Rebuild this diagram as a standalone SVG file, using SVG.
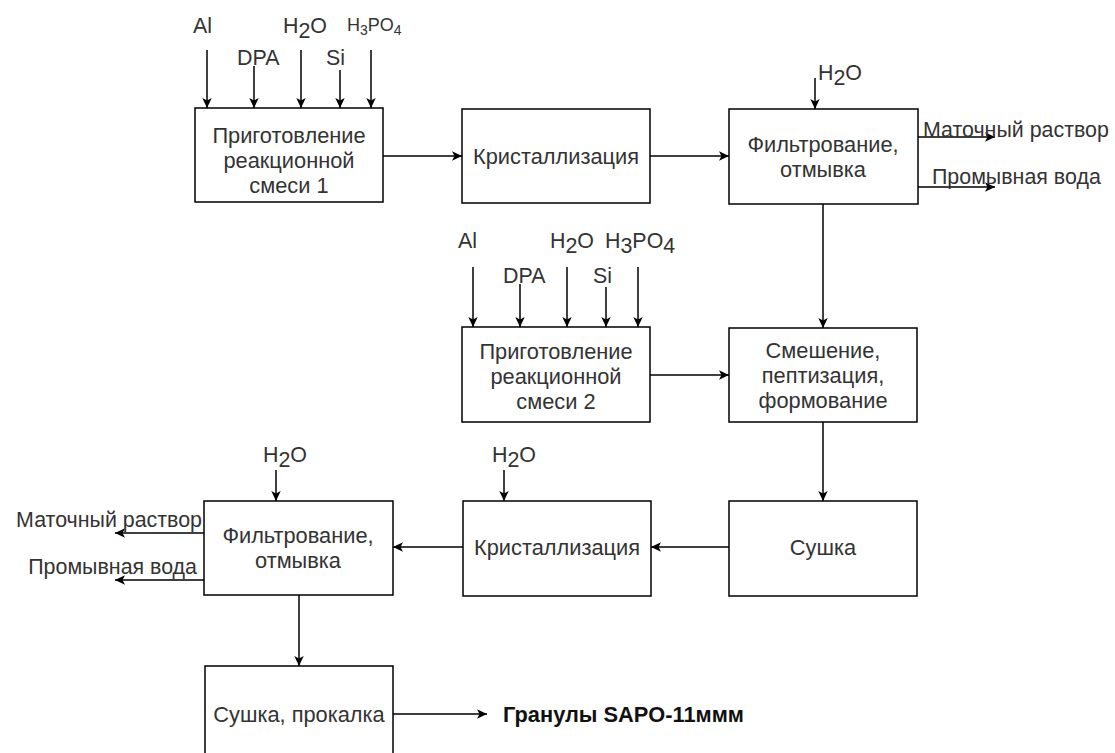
<svg xmlns="http://www.w3.org/2000/svg" width="1115" height="753" viewBox="0 0 1115 753">
<defs>
<marker id="arr" viewBox="0 0 10 10" refX="10" refY="5" markerWidth="10" markerHeight="10" markerUnits="userSpaceOnUse" orient="auto">
<path d="M0,0.3 L10,5 L0,9.7 L2.5,5 Z" fill="#000"/>
</marker>
<style>
.box{fill:#fff;stroke:#000;stroke-width:1.5}
.t{font-family:"Liberation Sans",Arial,sans-serif;font-size:21.8px;fill:#333}
.l{font-size:21.4px}
.c{text-anchor:middle}
.e{text-anchor:end}
.b{font-weight:bold;fill:#111}
.sm{font-size:18px}
.conn line{stroke:#000;stroke-width:1.5;marker-end:url(#arr)}
</style>
</defs>
<rect width="1115" height="753" fill="#fff"/>

<g id="connectors" class="conn">
<line x1="207" y1="50" x2="207" y2="108"/>
<line x1="254" y1="66" x2="254" y2="108"/>
<line x1="301" y1="50" x2="301" y2="108"/>
<line x1="340" y1="70" x2="340" y2="108"/>
<line x1="371" y1="50" x2="371" y2="108"/>
<line x1="383" y1="156" x2="462" y2="156"/>
<line x1="650" y1="156" x2="729" y2="156"/>
<line x1="815" y1="78" x2="815" y2="109"/>
<line x1="918" y1="137" x2="995" y2="137"/>
<line x1="918" y1="187" x2="995" y2="187"/>
<line x1="823" y1="204" x2="823" y2="328"/>
<line x1="473" y1="267" x2="473" y2="327"/>
<line x1="520" y1="284" x2="520" y2="327"/>
<line x1="567" y1="267" x2="567" y2="327"/>
<line x1="606" y1="287" x2="606" y2="327"/>
<line x1="638" y1="267" x2="638" y2="327"/>
<line x1="650" y1="375" x2="729" y2="375"/>
<line x1="823" y1="422" x2="823" y2="501"/>
<line x1="729" y1="547" x2="651" y2="547"/>
<line x1="504" y1="470" x2="504" y2="501"/>
<line x1="463" y1="547" x2="393" y2="547"/>
<line x1="276" y1="470" x2="276" y2="501"/>
<line x1="204" y1="533" x2="115" y2="533"/>
<line x1="204" y1="580" x2="115" y2="580"/>
<line x1="299" y1="595" x2="299" y2="666"/>
<line x1="393" y1="714" x2="487" y2="714"/>
</g>

<g id="labels">
<text class="t l" x="193" y="33">Al</text>
<text class="t l" x="237" y="65">DPA</text>
<text class="t l" x="283" y="33">H<tspan dy="5">2</tspan><tspan dy="-5">O</tspan></text>
<text class="t l" x="326" y="65">Si</text>
<text class="t sm" x="347" y="31">H<tspan dy="4" font-size="14">3</tspan><tspan dy="-4">PO</tspan><tspan dy="4" font-size="14">4</tspan></text>
<text class="t l" x="818" y="80">H<tspan dy="5">2</tspan><tspan dy="-5">O</tspan></text>
<text class="t l" x="923" y="137">Маточный раствор</text>
<text class="t l" x="932" y="184">Промывная вода</text>
<text class="t l" x="458" y="248">Al</text>
<text class="t l" x="503" y="283">DPA</text>
<text class="t l" x="550" y="248">H<tspan dy="5">2</tspan><tspan dy="-5">O</tspan></text>
<text class="t l" x="593" y="283">Si</text>
<text class="t l" x="605" y="248">H<tspan dy="5">3</tspan><tspan dy="-5">PO</tspan><tspan dy="5">4</tspan></text>
<text class="t l" x="492" y="462">H<tspan dy="5">2</tspan><tspan dy="-5">O</tspan></text>
<text class="t l" x="263" y="462">H<tspan dy="5">2</tspan><tspan dy="-5">O</tspan></text>
<text class="t l e" x="202" y="527">Маточный раствор</text>
<text class="t l e" x="197" y="574">Промывная вода</text>
<text class="t b" x="503" y="722">Гранулы SAPO-11ммм</text>
</g>

<g id="node-prep1">
<rect class="box" x="195" y="108" width="188" height="94"/>
<text class="t c" x="289" y="143">Приготовление</text>
<text class="t c" x="289" y="168">реакционной</text>
<text class="t c" x="289" y="193">смеси 1</text>
</g>
<g id="node-cryst1">
<rect class="box" x="462" y="109" width="188" height="94"/>
<text class="t c" x="556" y="164">Кристаллизация</text>
</g>
<g id="node-filter1">
<rect class="box" x="729" y="109" width="189" height="95"/>
<text class="t c" x="823" y="152">Фильтрование,</text>
<text class="t c" x="823" y="177">отмывка</text>
</g>
<g id="node-prep2">
<rect class="box" x="462" y="327" width="188" height="95"/>
<text class="t c" x="556" y="359">Приготовление</text>
<text class="t c" x="556" y="384">реакционной</text>
<text class="t c" x="556" y="409">смеси 2</text>
</g>
<g id="node-mix">
<rect class="box" x="729" y="328" width="188" height="94"/>
<text class="t c" x="823" y="358">Смешение,</text>
<text class="t c" x="823" y="383">пептизация,</text>
<text class="t c" x="823" y="408">формование</text>
</g>
<g id="node-dry">
<rect class="box" x="729" y="501" width="188" height="95"/>
<text class="t c" x="823" y="555">Сушка</text>
</g>
<g id="node-cryst2">
<rect class="box" x="463" y="501" width="188" height="95"/>
<text class="t c" x="557" y="555">Кристаллизация</text>
</g>
<g id="node-filter2">
<rect class="box" x="204" y="501" width="189" height="94"/>
<text class="t c" x="298" y="543">Фильтрование,</text>
<text class="t c" x="298" y="568">отмывка</text>
</g>
<g id="node-calc">
<rect class="box" x="205" y="666" width="188" height="95"/>
<text class="t c" x="299" y="722">Сушка, прокалка</text>
</g>
</svg>
